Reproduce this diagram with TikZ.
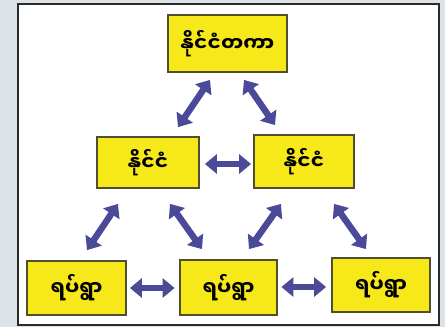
\documentclass[tikz,border=0pt]{standalone}
\usepackage{fontspec}
\newfontfamily\mya[Script=Myanmar]{Noto Sans Myanmar UI}
\usetikzlibrary{arrows.meta,calc}
\definecolor{bgc}{HTML}{DCE3E8}
\definecolor{boxy}{HTML}{F7E81A}
\definecolor{boxb}{HTML}{4F4F30}
\definecolor{arrc}{HTML}{4B4A98}
\definecolor{framec}{HTML}{2B2B2B}
\tikzset{
  ybox/.style={draw=boxb, line width=1.8pt, fill=boxy, inner sep=0pt, font=\mya\bfseries\fontsize{20}{24}\selectfont},
  darr/.style={draw=arrc, line width=6.5pt, {Triangle[width=19pt,length=12pt]}-{Triangle[width=19pt,length=12pt]}}
}
\begin{document}
\begin{tikzpicture}[x=1pt,y=-1pt]
\fill[bgc] (0,0) rectangle (445,327);
\useasboundingbox (0,0) rectangle (445,327);
\draw[framec, line width=2.5pt, fill=white] (18,4) rectangle (439,325);
\node[ybox, minimum width=119pt, minimum height=57pt] (top) at (227.5,43.5) {နိုင်ငံတကာ};
\node[ybox, minimum width=102pt, minimum height=51pt] (ml) at (148,162.5) {နိုင်ငံ};
\node[ybox, minimum width=100pt, minimum height=53pt] (mr) at (304,161.5) {နိုင်ငံ};
\node[ybox, minimum width=99pt, minimum height=54pt] (bl) at (76.5,288) {ရပ်ရွာ};
\node[ybox, minimum width=97pt, minimum height=55pt] (bm) at (228.5,287.5) {ရပ်ရွာ};
\node[ybox, minimum width=98pt, minimum height=54pt] (br) at (381,285) {ရပ်ရွာ};
\draw[darr] ($(top.south)+(-17.5,7)$) -- ($(ml.north)+(30,-9)$);
\draw[darr] ($(top.south)+(16.5,7)$) -- ($(mr.north)+(-29,-9)$);
\draw[darr] ($(ml.east)+(5,1.5)$) -- ($(mr.west)+(-2,2.5)$);
\draw[darr] ($(ml.south)+(-30,15)$) -- ($(bl.north)+(10.5,-10)$);
\draw[darr] ($(ml.south)+(22,15)$) -- ($(bm.north)+(-26.5,-10)$);
\draw[darr] ($(mr.south)+(-23,15)$) -- ($(bm.north)+(20.5,-10)$);
\draw[darr] ($(mr.south)+(30,15)$) -- ($(br.north)+(-15,-8)$);
\draw[darr] ($(bl.east)+(3,0)$) -- ($(bm.west)+(-4.5,0.5)$);
\draw[darr] ($(bm.east)+(3.5,-0.5)$) -- ($(br.west)+(-5,2)$);
\end{tikzpicture}
\end{document}
